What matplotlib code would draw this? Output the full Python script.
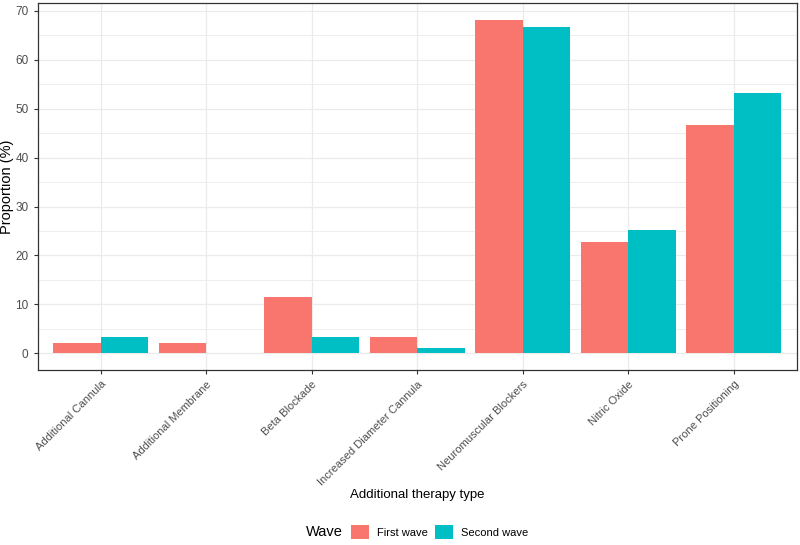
import matplotlib.pyplot as plt
import numpy as np
from matplotlib.patches import Patch

plt.rcParams["font.family"] = ["Liberation Sans", "DejaVu Sans"]

categories = [
    "Additional Cannula",
    "Additional Membrane",
    "Beta Blockade",
    "Increased Diameter Cannula",
    "Neuromuscular Blockers",
    "Nitric Oxide",
    "Prone Positioning",
]
first_wave = [2.2, 2.2, 11.5, 3.3, 68.2, 22.7, 46.6]
second_wave = [3.3, 0.0, 3.3, 1.1, 66.7, 25.2, 53.3]
waves = ["First wave", "Second wave"]
colors = ["#F8766D", "#00BFC4"]

fig = plt.figure(figsize=(8, 5.45), dpi=100)
ax = fig.add_axes([0.047, 0.321, 0.949, 0.6735])

x = np.arange(1, len(categories) + 1)
w = 0.45
ax.bar(x - w / 2, first_wave, width=w, color=colors[0], zorder=3)
ax.bar(x + w / 2, second_wave, width=w, color=colors[1], zorder=3)

ax.set_xlim(0.4, len(categories) + 0.6)
ax.set_ylim(-3.41, 71.6)
ax.set_yticks(np.arange(0, 71, 10))
ax.set_yticks(np.arange(5, 71, 10), minor=True)
ax.set_xticks(x)
ax.set_xticklabels(categories, rotation=45, ha="right", va="top",
                   rotation_mode="anchor", fontsize=8, color="#4D4D4D")
ax.tick_params(axis="y", labelsize=8.5, labelcolor="#4D4D4D")
ax.tick_params(axis="both", which="major", length=3, color="#333333", width=0.8)
ax.tick_params(axis="y", which="minor", length=0)

ax.grid(True, which="major", color="#EBEBEB", linewidth=0.9, zorder=0)
ax.grid(True, which="minor", axis="y", color="#EBEBEB", linewidth=0.6, zorder=0)
ax.set_axisbelow(True)
for s in ax.spines.values():
    s.set_color("#333333")
    s.set_linewidth(0.9)

ax.set_ylabel("Proportion (%)", fontsize=10.5)
ax.yaxis.set_label_coords(-0.031, 0.5)
ax.set_xlabel("Additional therapy type", fontsize=9.5)
ax.xaxis.set_label_coords(0.5, -0.325)

handles = [Patch(facecolor=c, edgecolor="none") for c in colors]
fig.text(0.429, 0.024, "Wave", fontsize=10.5, va="center", ha="right")
fig.legend(handles, waves, loc="center left", bbox_to_anchor=(0.439, 0.024),
           ncol=2, frameon=False, fontsize=8, handlelength=1.6,
           handleheight=1.6, handletextpad=0.7, columnspacing=0.7,
           borderaxespad=0, borderpad=0)

fig.savefig("out.png", dpi=100)
